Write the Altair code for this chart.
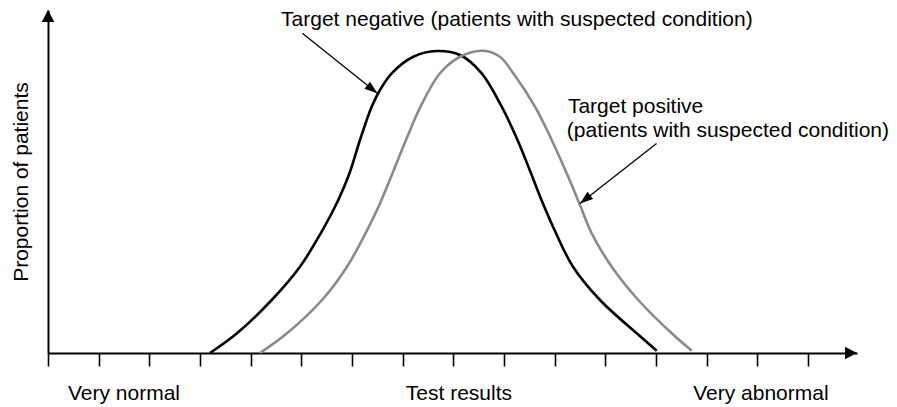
import altair as alt
import pandas as pd

# ---- data (x: test-result scale in tick units, y: proportion) ----
neg_x = [3.197, 3.730, 4.415, 4.973, 5.382, 5.729, 5.950, 6.157, 6.388, 6.552, 6.783, 7.210, 7.671,
         8.131, 8.559, 8.954, 9.266, 9.532, 9.739, 10.026, 10.361, 10.894, 11.618, 12.013]
neg_y = [0.000, 0.0574, 0.1545, 0.2516, 0.3490, 0.4461, 0.5239, 0.6210, 0.7181, 0.7668, 0.8155, 0.8638, 0.8805,
         0.8688, 0.8155, 0.7181, 0.6210, 0.5239, 0.4461, 0.3490, 0.2516, 0.1545, 0.0574, 0.0067]

pos_x = [4.184, 4.717, 5.408, 5.901, 6.266, 6.523, 6.799, 7.065, 7.352, 7.736, 8.131, 8.591, 8.920,
         9.183, 9.611, 9.941, 10.237, 10.486, 10.730, 11.125, 11.650, 12.309, 12.704]
pos_y = [0.000, 0.0574, 0.1545, 0.2516, 0.3490, 0.4265, 0.5239, 0.6210, 0.7181, 0.8155, 0.8638, 0.8813, 0.8638,
         0.8155, 0.7181, 0.6210, 0.5239, 0.4364, 0.3490, 0.2516, 0.1545, 0.0574, 0.0067]

series_names = ["Target negative", "Target positive"]
tick_values = list(range(16))
bottom_labels = ["Very normal", "Test results", "Very abnormal"]
bottom_label_x = [1.5, 8.11, 14.07]
y_title = "Proportion of patients"

note_lines = ["Target negative (patients with suspected condition)",
              "Target positive",
              "(patients with suspected condition)"]
note_x = [4.60, 10.26, 10.24]
note_y = [0.953, 0.700, 0.629]

arrow_x = [5.02, 12.01]
arrow_y = [0.932, 0.611]
arrow_tip_x = [6.50, 10.50]
arrow_tip_y = [0.757, 0.436]
arrow_angle = [38.66, 141.97]

X_MAX = 15.966

# ---- tables ----
curves = pd.concat([
    pd.DataFrame({"x": neg_x, "y": neg_y, "series": series_names[0], "order": range(len(neg_x))}),
    pd.DataFrame({"x": pos_x, "y": pos_y, "series": series_names[1], "order": range(len(pos_x))}),
])
notes = pd.DataFrame({"x": note_x, "y": note_y, "text": note_lines})
bottom = pd.DataFrame({"x": bottom_label_x, "y": [-0.137] * 3, "text": bottom_labels})
arrows = pd.DataFrame({"x": arrow_x, "y": arrow_y, "x2": arrow_tip_x, "y2": arrow_tip_y,
                       "angle": arrow_angle})
axis_heads = pd.DataFrame({"x": [X_MAX, 0.0], "y": [0.0, 1.0], "angle": [0, 270]})

FONT = "Liberation Sans"
xscale = alt.Scale(domain=[0, X_MAX], nice=False, zero=False)
yscale = alt.Scale(domain=[0, 1], nice=False, zero=False)

lines = alt.Chart(curves).mark_line(strokeWidth=2.6, interpolate="catmull-rom", clip=False).encode(
    x=alt.X("x:Q", scale=xscale,
            axis=alt.Axis(values=tick_values, tickSize=13, tickWidth=1.6, tickColor="black",
                          domainWidth=2, domainColor="black", labels=False, title=None, grid=False)),
    y=alt.Y("y:Q", scale=yscale,
            axis=alt.Axis(values=[0.5], ticks=False, labels=False, domainWidth=2, domainColor="black",
                          grid=False, title=y_title, titleFontSize=21, titleFontWeight="normal",
                          titleFont=FONT, titleColor="black", titlePadding=17)),
    color=alt.Color("series:N", scale=alt.Scale(domain=series_names, range=["#000000", "#8a8a8a"]),
                    legend=None),
    order="order:Q",
)

arrow_lines = alt.Chart(arrows).mark_rule(color="black", strokeWidth=1.3).encode(
    x="x:Q", y="y:Q", x2="x2:Q", y2="y2:Q"
)

head_path = "M-2,-0.7 L0,0 L-2,0.7 Z"
arrow_heads = alt.Chart(arrows).mark_point(shape=head_path, filled=True, color="black",
                                           opacity=1, size=169, strokeWidth=0).encode(
    x="x2:Q", y="y2:Q", angle=alt.Angle("angle:Q", scale=None)
)

axis_path = "M-2,-1.05 L0,0 L-2,1.05 Z"
axis_arrows = alt.Chart(axis_heads).mark_point(shape=axis_path, filled=True, color="black",
                                               opacity=1, size=144, strokeWidth=0).encode(
    x="x:Q", y="y:Q", angle=alt.Angle("angle:Q", scale=None)
)

note_text = alt.Chart(notes).mark_text(align="left", baseline="alphabetic", fontSize=21,
                                       font=FONT, color="black").encode(
    x="x:Q", y="y:Q", text="text:N"
)

bottom_text = alt.Chart(bottom).mark_text(align="center", baseline="alphabetic", fontSize=21,
                                          font=FONT, color="black").encode(
    x="x:Q", y="y:Q", text="text:N"
)

chart = alt.layer(lines, arrow_lines, arrow_heads, axis_arrows, note_text, bottom_text).properties(
    width=809, height=343,
    padding={"left": 40, "top": 2, "right": 32, "bottom": 54},
    autosize=alt.AutoSizeParams(type="none"),
    background="white",
).configure_view(stroke=None)

chart.save("out.html", embed_options={"renderer": "svg", "actions": False})
